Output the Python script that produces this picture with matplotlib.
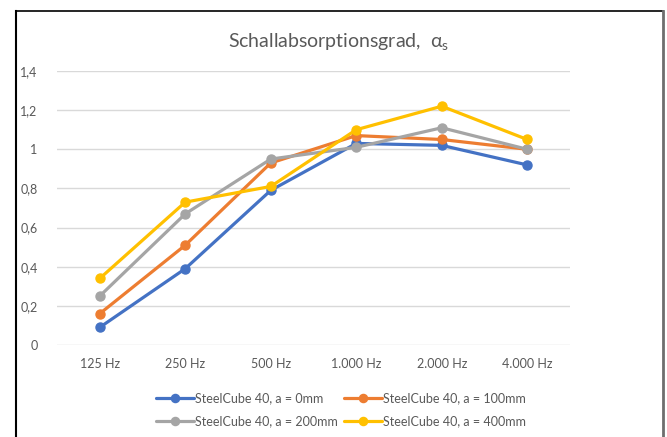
import matplotlib as mpl
import matplotlib.pyplot as plt
from matplotlib.lines import Line2D

mpl.rcParams['font.family'] = ['Lato', 'DejaVu Sans']

# Daten
frequenzen = ['125 Hz', '250 Hz', '500 Hz', '1.000 Hz', '2.000 Hz', '4.000 Hz']
a_0mm = [0.09, 0.39, 0.79, 1.03, 1.02, 0.92]
a_100mm = [0.16, 0.51, 0.93, 1.07, 1.05, 1.00]
a_200mm = [0.25, 0.67, 0.95, 1.01, 1.11, 1.00]
a_400mm = [0.34, 0.73, 0.81, 1.10, 1.22, 1.05]
namen = ['SteelCube 40, a = 0mm', 'SteelCube 40, a = 100mm',
         'SteelCube 40, a = 200mm', 'SteelCube 40, a = 400mm']
y_ticks = [0, 0.2, 0.4, 0.6, 0.8, 1.0, 1.2, 1.4]
y_labels = ['0', '0,2', '0,4', '0,6', '0,8', '1', '1,2', '1,4']

farben = ['#4472C4', '#ED7D31', '#A5A5A5', '#FFC000']
textfarbe = '#595959'

dpi = 100
fig = plt.figure(dpi=dpi, figsize=(667 / dpi, 437 / dpi))
ax = fig.add_axes([57 / 667, 1 - 345 / 437, 513 / 667, 274 / 437])

xs = range(len(frequenzen))
linien = []
for werte, farbe, name in zip([a_0mm, a_100mm, a_200mm, a_400mm], farben, namen):
    l, = ax.plot(xs, werte, color=farbe, lw=2.3, marker='o', ms=6.5,
                 label=name, zorder=3, solid_capstyle='round')
    linien.append(l)

ax.set_xlim(-0.5, len(frequenzen) - 0.5)
ax.set_ylim(0, 1.4)
ax.set_yticks(y_ticks)
ax.set_yticklabels(y_labels)
ax.set_xticks(list(xs))
ax.set_xticklabels(frequenzen)
ax.grid(axis='y', color='#d9d9d9', lw=1, zorder=0)
ax.tick_params(axis='both', length=0, labelsize=9, labelcolor=textfarbe)
ax.tick_params(axis='y', pad=14)
ax.tick_params(axis='x', pad=9)
for s in ax.spines.values():
    s.set_visible(False)

fig.text(339 / 667, 1 - 42 / 437, r'Schallabsorptionsgrad,  $\mathregular{\alpha_s}$',
         ha='center', va='center', fontsize=14, color=textfarbe)

# Legende zeilenweise
reihenfolge = [0, 2, 1, 3]
fig.legend([linien[i] for i in reihenfolge], [namen[i] for i in reihenfolge],
           ncol=2, loc='center', bbox_to_anchor=(341 / 667, 1 - 410 / 437),
           frameon=False, fontsize=9, labelcolor=textfarbe,
           handlelength=3.0, handletextpad=0.1, columnspacing=0.5,
           labelspacing=0.9, markerscale=0.9)

# Rahmen des Screenshots
fig.add_artist(Line2D([15.5 / 667, 15.5 / 667], [0, 1 - 11 / 437], color='black', lw=1.5))
fig.add_artist(Line2D([15.5 / 667, 662.5 / 667], [1 - 11 / 437, 1 - 11 / 437], color='black', lw=1.2))
fig.add_artist(Line2D([662.5 / 667, 662.5 / 667], [0, 1 - 11 / 437], color='#6e6e6e', lw=2))

plt.savefig('out.png')
